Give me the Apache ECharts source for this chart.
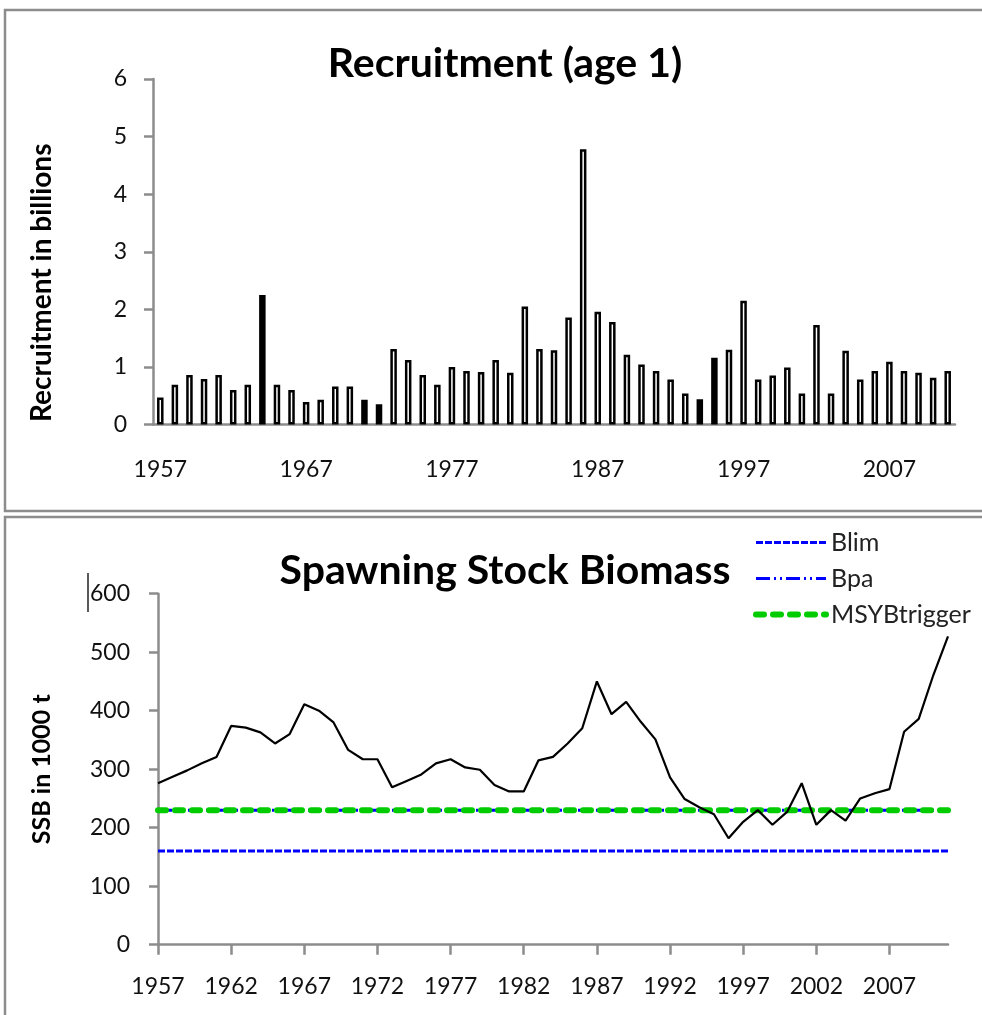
<!DOCTYPE html>
<html>
<head>
<meta charset="utf-8">
<script src="https://cdn.jsdelivr.net/npm/echarts@6/dist/echarts.min.js"></script>
<style>
html,body{margin:0;padding:0;background:#fff;}
#chart{width:982px;height:1015px;}
</style>
</head>
<body>
<div id="chart"></div>
<script>
// ---- data ----
const years = [];
for (let y = 1957; y <= 2011; y++) years.push(String(y));

const recruitment = [
  0.47, 0.69, 0.86, 0.79, 0.86, 0.60, 0.69, 2.25, 0.69, 0.60,
  0.39, 0.43, 0.66, 0.66, 0.43, 0.35, 1.31, 1.12, 0.86, 0.69,
  1.00, 0.93, 0.91, 1.12, 0.90, 2.05, 1.31, 1.29, 1.86, 4.78,
  1.96, 1.78, 1.21, 1.04, 0.93, 0.78, 0.54, 0.44, 1.16, 1.30,
  2.15, 0.78, 0.85, 0.99, 0.54, 1.73, 0.54, 1.28, 0.78, 0.93,
  1.09, 0.93, 0.90, 0.81, 0.93
];
const solidYears = ['1964', '1971', '1972', '1994', '1995'];

const ssb = [
  276, 287, 298, 310, 321, 374, 371, 363, 344, 360,
  411, 400, 380, 333, 317, 317, 269, 280, 291, 310,
  317, 303, 299, 273, 262, 262, 315, 321, 344, 370,
  450, 394, 415, 381, 351, 286, 249, 235, 223, 182,
  210, 230, 205, 227, 276, 205, 230, 212, 250, 259,
  266, 364, 386, 461, 527
];
const blimValue = 160;
const bpaValue = 230;
const msyValue = 230;

const recruitTicks = [0, 6, 1];   // min, max, interval
const ssbTicks = [0, 600, 100];

// ---- chart ----
const FONT = 'Lato, "Open Sans", sans-serif';
const AXIS_GREY = '#8c8c8c';
const BLUE = '#0000ff';
const GREEN = '#00cc00';
const blimStyle = {color: BLUE, width: 3, type: [7, 2]};
const bpaStyle = {color: BLUE, width: 3, type: [14, 4, 2, 4, 2, 4]};
const msyStyle = {color: GREEN, width: 6, type: [8, 9], cap: 'round'};

const chart = echarts.init(document.getElementById('chart'), null, {renderer: 'canvas'});

const barData = recruitment.map((v, i) => solidYears.includes(years[i])
  ? {value: v, itemStyle: {color: '#000', borderColor: '#000'}}
  : v);

const option = {
  backgroundColor: '#fff',
  animation: false,
  textStyle: {fontFamily: FONT},
  title: [
    {text: 'Recruitment (age 1)', left: 500, top: 38, textAlign: 'center',
     textStyle: {fontFamily: FONT, fontWeight: 'bold', fontSize: 41, color: '#000'}},
    {text: 'Spawning Stock Biomass', left: 500, top: 545, textAlign: 'center',
     textStyle: {fontFamily: FONT, fontWeight: 'bold', fontSize: 41, color: '#000'}}
  ],
  legend: {
    orient: 'vertical', left: 748, top: 525,
    itemWidth: 70, itemHeight: 14, itemGap: 11,
    data: [
      {name: 'Blim', lineStyle: blimStyle},
      {name: 'Bpa', lineStyle: bpaStyle},
      {name: 'MSYBtrigger', lineStyle: msyStyle}
    ],
    itemStyle: {opacity: 0},
    textStyle: {fontFamily: FONT, fontSize: 25, color: '#222'}
  },
  grid: [
    {left: 153, right: 27, top: 79, height: 345.5},
    {left: 158, right: 34, top: 593.7, height: 351}
  ],
  xAxis: [
    {type: 'category', gridIndex: 0, data: years, boundaryGap: true,
     axisLine: {lineStyle: {color: AXIS_GREY, width: 2.5}},
     axisTick: {interval: 9, length: 11, lineStyle: {color: AXIS_GREY, width: 2.5}},
     axisLabel: {interval: 9, margin: 34, fontSize: 23, color: '#111', fontFamily: FONT}},
    {type: 'category', gridIndex: 1, data: years, boundaryGap: false,
     axisLine: {lineStyle: {color: AXIS_GREY, width: 2.5}},
     axisTick: {interval: 4, length: 10, lineStyle: {color: AXIS_GREY, width: 2.5}},
     axisLabel: {interval: 4, margin: 30, fontSize: 23, color: '#111', fontFamily: FONT}}
  ],
  yAxis: [
    {type: 'value', gridIndex: 0, min: recruitTicks[0], max: recruitTicks[1], interval: recruitTicks[2],
     name: 'Recruitment in billions', nameLocation: 'middle', nameGap: 97,
     nameTextStyle: {fontFamily: FONT, fontWeight: 'bold', fontSize: 28, color: '#000',
                     padding: [0, 62, 0, 0]},
     axisLine: {show: true, lineStyle: {color: AXIS_GREY, width: 2.5}},
     axisTick: {show: true, length: 9, lineStyle: {color: AXIS_GREY, width: 2.5}},
     splitLine: {show: false},
     axisLabel: {margin: 26, fontSize: 23, color: '#111', fontFamily: FONT}},
    {type: 'value', gridIndex: 1, min: ssbTicks[0], max: ssbTicks[1], interval: ssbTicks[2],
     name: 'SSB in 1000 t', nameLocation: 'middle', nameGap: 104,
     nameTextStyle: {fontFamily: FONT, fontWeight: 'bold', fontSize: 25, color: '#000'},
     axisLine: {show: true, lineStyle: {color: AXIS_GREY, width: 2.5}},
     axisTick: {show: true, length: 9, lineStyle: {color: AXIS_GREY, width: 2.5}},
     splitLine: {show: false},
     axisLabel: {margin: 28, fontSize: 23, color: '#111', fontFamily: FONT}}
  ],
  series: [
    {name: 'Recruitment', type: 'bar', xAxisIndex: 0, yAxisIndex: 0, data: barData,
     barWidth: 6.5,
     itemStyle: {color: '#fff', borderColor: '#000', borderWidth: 2.5}},
    {name: 'Blim', type: 'line', xAxisIndex: 1, yAxisIndex: 1,
     data: years.map(() => blimValue), symbol: 'none', z: 3,
     lineStyle: blimStyle, itemStyle: {color: BLUE}},
    {name: 'Bpa', type: 'line', xAxisIndex: 1, yAxisIndex: 1,
     data: years.map(() => bpaValue), symbol: 'none', z: 3,
     lineStyle: bpaStyle, itemStyle: {color: BLUE}},
    {name: 'MSYBtrigger', type: 'line', xAxisIndex: 1, yAxisIndex: 1,
     data: years.map(() => msyValue), symbol: 'none', z: 4,
     lineStyle: msyStyle, itemStyle: {color: GREEN}},
    {name: 'SSB', type: 'line', xAxisIndex: 1, yAxisIndex: 1, data: ssb,
     symbol: 'none', z: 5,
     lineStyle: {color: '#000', width: 2.2}}
  ],
  graphic: [
    {type: 'rect', shape: {x: 5, y: 10, width: 990, height: 501},
     style: {fill: null, stroke: AXIS_GREY, lineWidth: 2.5}, silent: true},
    {type: 'rect', shape: {x: 5, y: 517, width: 990, height: 510},
     style: {fill: null, stroke: AXIS_GREY, lineWidth: 2.5}, silent: true},
    {type: 'line', shape: {x1: 88, y1: 573, x2: 88, y2: 612},
     style: {stroke: '#222', lineWidth: 1.5}, silent: true}
  ]
};
chart.setOption(option);
</script>
</body>
</html>
